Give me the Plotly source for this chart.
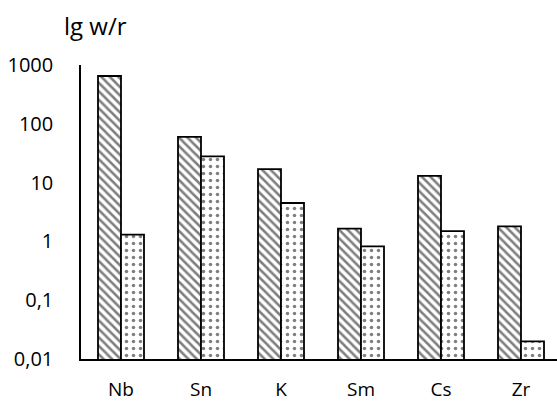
import plotly.graph_objects as go

categories = ["Nb", "Sn", "K", "Sm", "Cs", "Zr"]
series_hatched = [650, 60, 17, 1.65, 13, 1.8]
series_dotted = [1.3, 28, 4.5, 0.82, 1.5, 0.02]
tick_vals = [0.01, 0.1, 1, 10, 100, 1000]
tick_text = ["0,01", "0,1", "1", "10", "100", "1000"]

fig = go.Figure()
fig.add_trace(go.Bar(
    x=categories, y=series_hatched, name="hatched",
    marker=dict(color="white", line=dict(color="black", width=1.8),
                pattern=dict(shape="\\", fgcolor="black", bgcolor="white",
                             size=6, solidity=0.42)),
))
fig.add_trace(go.Bar(
    x=categories, y=series_dotted, name="dotted",
    marker=dict(color="white", line=dict(color="black", width=1.8),
                pattern=dict(shape=".", fgcolor="black", bgcolor="white",
                             size=7, solidity=0.2)),
))

fig.update_layout(
    width=557, height=403,
    margin=dict(l=81, r=0, t=65, b=44),
    paper_bgcolor="white", plot_bgcolor="white",
    barmode="group", bargap=0.425, bargroupgap=0,
    showlegend=False,
    font=dict(family="Open Sans", size=20, color="black"),
    annotations=[dict(text="lg w/r", xref="paper", yref="paper",
                      x=(95 - 81) / 476, y=(359 - 25) / 294,
                      xanchor="center", yanchor="middle",
                      showarrow=False, font=dict(size=24))],
)
fig.update_yaxes(type="log", range=[-2, 3], tickvals=tick_vals, ticktext=tick_text,
                 showgrid=False, zeroline=False, showline=True, linecolor="black",
                 linewidth=1.5, ticks="", ticklabelstandoff=22, automargin=False)
fig.update_xaxes(range=[-0.5, 5.45], showgrid=False, showline=True,
                 linecolor="black", linewidth=1.5, ticks="", ticklabelstandoff=12,
                 tickfont=dict(size=19), automargin=False)

fig.write_html("out.html", config={"displayModeBar": False},
               post_script="document.body.style.margin='0';")
